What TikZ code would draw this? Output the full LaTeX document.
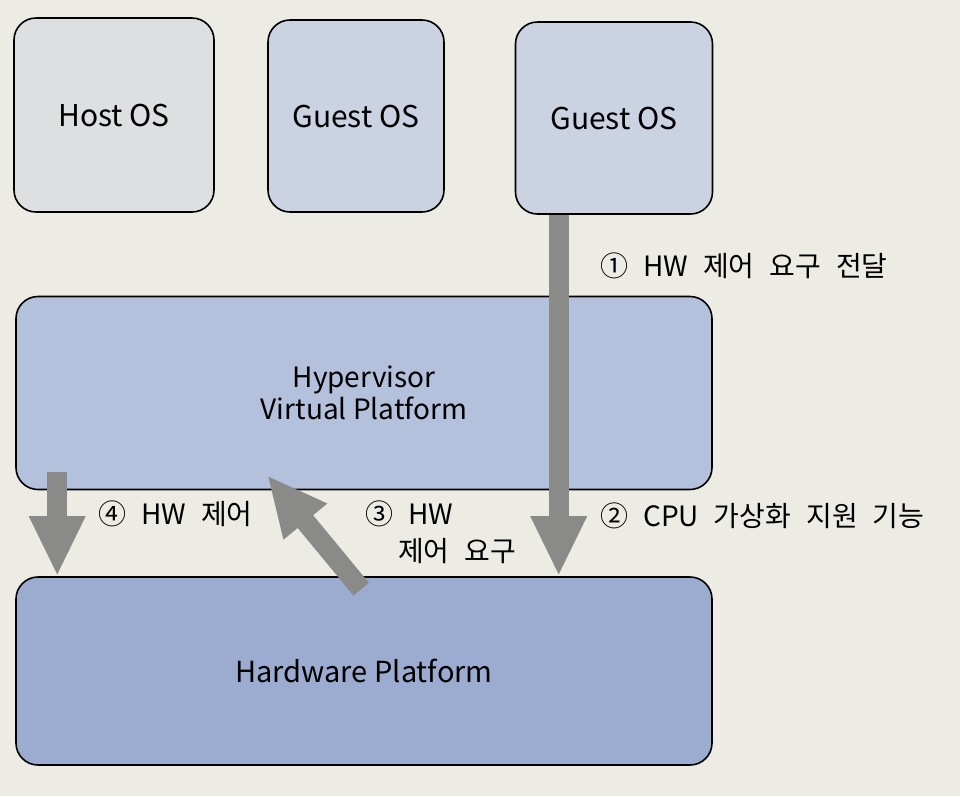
\documentclass[tikz,border=0pt]{standalone}
\usepackage{fontspec}
\setmainfont{Noto Sans CJK KR}
\usetikzlibrary{arrows.meta,calc}
\newcommand\lblsetup{\fontsize{28}{30}\selectfont\spaceskip=15pt plus 2pt\relax}
\definecolor{paper}{RGB}{236,235,228}
\definecolor{hostc}{RGB}{222,223,224}
\definecolor{guestc}{RGB}{203,210,226}
\definecolor{hypc}{RGB}{180,193,220}
\definecolor{hwc}{RGB}{155,172,208}
\definecolor{arrc}{RGB}{138,138,136}
\begin{document}
\begin{tikzpicture}[x=1pt,y=-1pt,
  box/.style={draw=black, line width=1.6pt, rounded corners=22pt, inner sep=0pt, font=\fontsize{30}{32}\selectfont},
  bigarrow/.style={draw=arrc, line width=20pt, -{Triangle[width=52pt,length=60pt]}, color=arrc},
  lbl/.style={anchor=west, inner sep=0pt, font=\lblsetup}]
\fill[paper] (0,0) rectangle (960,796);
\useasboundingbox (0,0) rectangle (960,796);

\node[box, fill=hostc, minimum width=200pt, minimum height=194pt] (host) at (114,115) {Host OS};
\node[box, fill=guestc, minimum width=176pt, minimum height=192pt] (g1) at (356,116) {Guest OS};
\node[box, fill=guestc, minimum width=197pt, minimum height=192pt] (g2) at (614,118) {Guest OS};
\node[box, fill=hypc, minimum width=696pt, minimum height=193pt, align=center, font=\fontsize{28}{32}\selectfont] (hyp) at (364,393) {Hypervisor\\Virtual Platform};
\node[box, fill=hwc, minimum width=696pt, minimum height=188pt, font=\fontsize{29}{32}\selectfont] (hw) at (364,671) {Hardware Platform};

% arrow 1/2
\coordinate (a1s) at ($(g2.south west)+(44,0)$);
\draw[bigarrow] (a1s) -- (a1s |- hw.north);
% arrow 4
\coordinate (a4s) at ($(hyp.south west)+(42,-18)$);
\draw[bigarrow] (a4s) -- (a4s |- hw.north);
% arrow 3
\coordinate (a3s) at ($(hw.north west)+(346,13)$);
\coordinate (a3e) at ($(hyp.south west)+(252,-15)$);
\draw[bigarrow] (a3s) -- (a3e);

\node[lbl] (l1) at (600,266) {① HW 제어 요구 전달};
\node[lbl] (l2) at (600,516) {② CPU 가상화 지원 기능};
\node[lbl] (l4) at (98,514) {④ HW 제어};
\node[lbl] (l3a) at (365,514) {③ HW};
\node[lbl] (l3b) at (398,551) {제어 요구};
\end{tikzpicture}
\end{document}
